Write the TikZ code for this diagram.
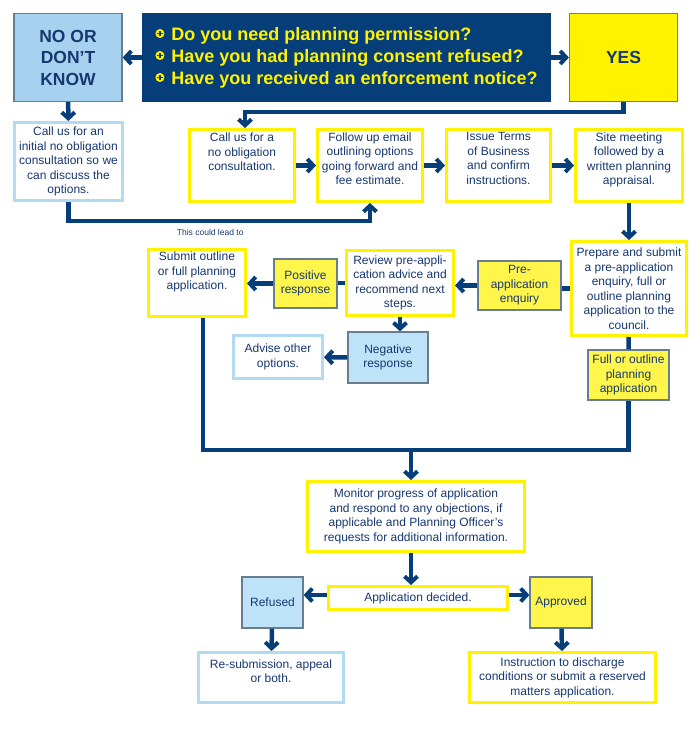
\documentclass[tikz,border=0pt]{standalone}
\usepackage{fontspec}
\setmainfont{Liberation Sans}
\usetikzlibrary{arrows.meta}
\definecolor{navy}{RGB}{6,62,122}
\definecolor{txtblue}{RGB}{22,56,112}
\definecolor{yline}{RGB}{255,242,0}
\definecolor{bline}{RGB}{178,218,242}
\definecolor{grayline}{RGB}{105,125,145}
\definecolor{yfillc}{RGB}{255,245,75}
\definecolor{bfillc}{RGB}{190,226,247}
\definecolor{nofill}{RGB}{166,210,240}
\definecolor{yesfill}{RGB}{255,242,0}
\newcommand{\qmark}{\tikz[baseline=0pt]{\fill[yline] (0pt,0.7ex) circle (4.5pt); \draw[navy,line width=1.4pt] (-2.7pt,0.7ex)--(2.7pt,0.7ex) (0pt,0.7ex-2.7pt)--(0pt,0.7ex+2.7pt);}\hspace{7pt}}

\begin{document}
\begin{tikzpicture}[x=1pt,y=-1pt]
\tikzstyle{box} = [inner sep=2pt, align=center, text=txtblue, font=\fontsize{12}{14.5}\selectfont]
\tikzstyle{ybox} = [box, draw=yline, line width=3pt, fill=white]
\tikzstyle{bbox} = [box, draw=bline, line width=3pt, fill=white]
\tikzstyle{yfill} = [box, draw=grayline, line width=1.2pt, fill=yfillc]
\tikzstyle{bfill} = [box, draw=grayline, line width=1.2pt, fill=bfillc]
\tikzstyle{answer} = [box, draw=grayline, line width=1.2pt, font=\bfseries\fontsize{17.5}{21.5}\selectfont, minimum width=108, minimum height=88]
\tikzstyle{edge} = [draw=navy, line width=4.5pt]
\tikzstyle{arrow} = [edge, -{Straight Barb[length=6pt,width=13pt,line width=4pt]}]

\useasboundingbox (0,0) rectangle (700,730);

\node[answer, fill=nofill] (no) at (68,57.5) {NO OR\\DON'T\\KNOW};
\node[fill=navy, text=yline, minimum width=409, minimum height=89, align=left, font=\bfseries\fontsize{18}{22}\selectfont] (quest) at (346.5,57.5)
  {\qmark Do you need planning permission?\\ \qmark Have you had planning consent refused?\\ \qmark Have you received an enforcement notice?};
\node[answer, fill=yesfill] (yes) at (623.5,57.5) {YES};

\node[bbox, minimum width=108, minimum height=78] (callinit) at (68.5,161.5) {Call us for an\\initial no obligation\\consultation so we\\can discuss the\\options.};
\node[ybox, minimum width=105, minimum height=72, text depth=27pt] (call) at (242,165.5) {Call us for a\\no obligation\\consultation.};
\node[ybox, minimum width=105, minimum height=72, text depth=14pt] (follow) at (370,165.5) {Follow up email\\outlining options\\going forward and\\fee estimate.};
\node[ybox, minimum width=104, minimum height=72, text depth=14pt] (issue) at (498.5,165.5) {Issue Terms\\of Business\\and confirm\\instructions.};
\node[ybox, minimum width=107, minimum height=72, text depth=14pt] (site) at (629,165.5) {Site meeting\\followed by a\\written planning\\appraisal.};

\node[ybox, minimum width=115, minimum height=94] (prep) at (629,288.5) {Prepare and submit\\a pre-application\\enquiry, full or\\outline planning\\application to the\\council.};
\node[yfill, minimum width=83, minimum height=49] (enq) at (519.5,285.5) {Pre-\\application\\enquiry};
\node[ybox, minimum width=107, minimum height=65] (review) at (400,283) {Review pre-appli-\\cation advice and\\recommend next\\steps.};
\node[yfill, minimum width=63, minimum height=49] (pos) at (305.5,283.5) {Positive\\response};
\node[ybox, minimum width=97, minimum height=67, text depth=24pt] (submit) at (197,283) {Submit outline\\or full planning\\application.};
\node[bfill, minimum width=80, minimum height=51] (neg) at (388,357.5) {Negative\\response};
\node[bbox, minimum width=89, minimum height=43] (advise) at (278,357) {Advise other\\options.};
\node[yfill, minimum width=81, minimum height=50] (full) at (628.5,375) {Full or outline\\planning\\application};

\node[ybox, minimum width=217, minimum height=70] (monitor) at (416,516.5) {Monitor progress of application\\and respond to any objections, if\\applicable and Planning Officer's\\requests for additional information.};
\node[ybox, minimum width=179, minimum height=23] (decided) at (418,598) {Application decided.};
\node[bfill, minimum width=61, minimum height=51] (refused) at (272.5,602.5) {Refused};
\node[yfill, minimum width=62, minimum height=51] (approved) at (561,602.5) {Approved};
\node[bbox, minimum width=145, minimum height=50, text depth=13pt] (resub) at (271,677.5) {Re-submission, appeal\\or both.};
\node[ybox, minimum width=186, minimum height=50] (instr) at (562.5,677.5) {Instruction to discharge\\conditions or submit a reserved\\matters application.};

\coordinate (join) at (411,450);

\draw[arrow] (quest) to (no);
\draw[arrow] (quest) to (yes);
\draw[arrow] (no) to (callinit);
\draw[arrow] (yes.south) -- ++(0,10) -| ([xshift=3pt]call.north);
\draw[arrow] (callinit.south) -- ++(0,19) -| node[pos=0.235, below=3pt, text=txtblue, font=\fontsize{8.5}{10}\selectfont]{This could lead to} (follow.south);
\draw[arrow] (call) to (follow);
\draw[arrow] (follow) to (issue);
\draw[arrow] (issue) to (site);
\draw[arrow] (site) to (prep);
\draw[edge] (prep.west) to (prep.west -| enq.east);
\draw[arrow] (enq.west) to (enq.west -| review.east);
\draw[edge] (review.west) to (review.west -| pos.east);
\draw[arrow] (pos.west) to (pos.west -| submit.east);
\draw[arrow] (review.south) to (review.south |- neg.north);
\draw[arrow] (neg) to (advise);
\draw[edge] (prep) to (full);
\draw[edge] ([xshift=6pt]submit.south) |- (join) -| (full.south);
\draw[arrow] (join) to (join |- monitor.north);
\draw[arrow] (monitor.south -| join) to (join |- decided.north);
\draw[arrow] ([yshift=3pt]decided.west) to ([yshift=3pt]decided.west -| refused.east);
\draw[arrow] ([yshift=3pt]decided.east) to ([yshift=3pt]decided.east -| approved.west);
\draw[arrow] (refused) to (resub);
\draw[arrow] (approved) to (instr);
\end{tikzpicture}
\end{document}
